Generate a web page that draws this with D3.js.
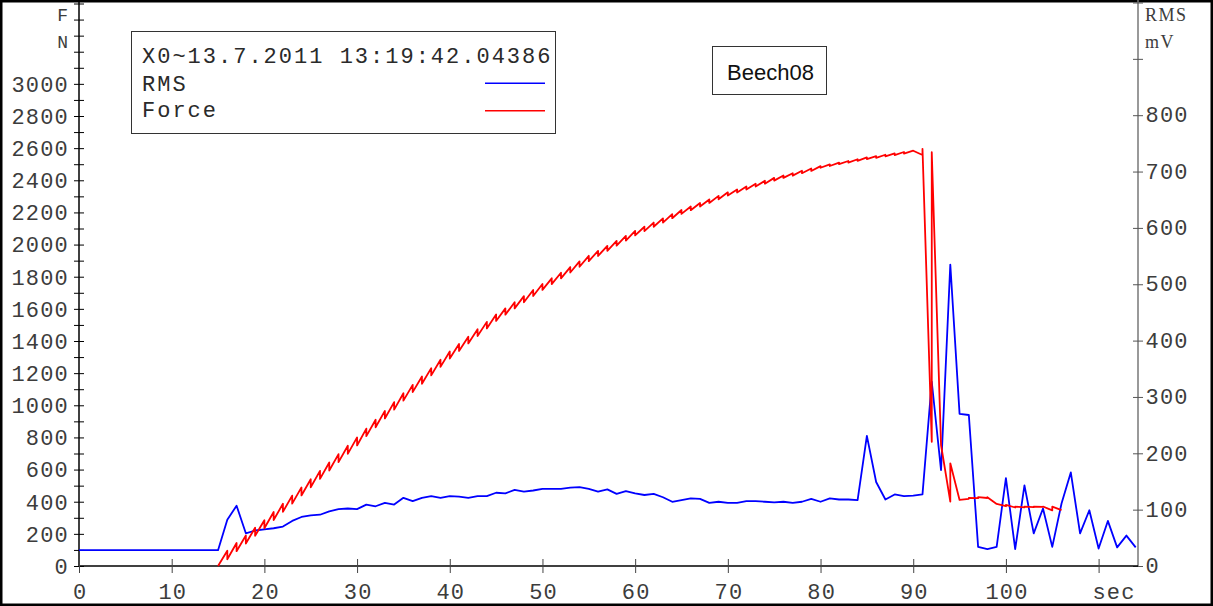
<!DOCTYPE html>
<html>
<head>
<meta charset="utf-8">
<script src="https://cdn.jsdelivr.net/npm/d3@7"></script>
<style>
  body { margin: 0; background: #fff; }
  svg { display: block; }
</style>
</head>
<body>
<svg id="chart" width="1213" height="606"></svg>
<script>
// RMS in mV, one sample per second starting at 0 s
const rms = [
  28, 28, 28, 28, 28, 28, 28, 28, 28, 28, 28, 28, 28, 28, 28, 28,
  82, 107, 58, 63, 65, 67, 70, 80, 87, 90, 91, 97, 101, 102, 101, 109, 106, 112, 109,
  121, 115, 121, 124, 121, 124, 123, 121, 124, 124, 130, 129, 135, 132, 134, 137, 137,
  137, 139, 140, 137, 132, 136, 128, 133, 129, 126, 128, 122, 114, 117, 120, 119, 112,
  114, 112, 112, 115, 115, 114, 113, 114, 112, 114, 119, 114, 120, 118, 118, 117,
  231, 149, 118, 127, 124, 125, 127, 327, 170, 535, 270, 268, 34, 30, 34, 156, 30,
  143, 58, 102, 34, 111, 166, 58, 99, 31, 80, 33, 54, 33
];

// Force in N, starting at 15 s; each second has the value reached and the value it continues from
const forceStart = 15;
const forceIn = [
  0, 95, 143, 190, 238, 285, 336, 387, 438, 489, 540, 592, 644, 696, 748, 800,
  855, 910, 965, 1020, 1075, 1127, 1179, 1231, 1283, 1335, 1381, 1427, 1473, 1519, 1565,
  1603, 1641, 1679, 1717, 1755, 1790, 1825, 1860, 1895, 1930, 1961, 1992, 2023, 2054, 2085,
  2111, 2137, 2163, 2189, 2215, 2237, 2259, 2281, 2303, 2325, 2343, 2361, 2379, 2397, 2415,
  2430, 2444, 2459, 2473, 2488, 2499, 2510, 2520, 2531, 2542, 2550, 2559, 2567, 2576, 2584,
  2557, 773, 753, 400, 411, 418, 422, 423, 386, 372, 364, 365, 366, 368, 346, 348
];
const forceOut = [
  0, 42, 92, 140, 188, 235, 286, 337, 388, 439, 490, 542, 594, 646, 698, 750,
  808, 863, 918, 973, 1029, 1082, 1134, 1186, 1239, 1291, 1338, 1385, 1431, 1478, 1525,
  1564, 1603, 1641, 1680, 1718, 1754, 1790, 1826, 1862, 1897, 1929, 1961, 1993, 2025, 2057,
  2084, 2111, 2137, 2164, 2191, 2214, 2237, 2259, 2282, 2305, 2324, 2342, 2361, 2379, 2398,
  2415, 2429, 2444, 2458, 2478, 2489, 2500, 2510, 2521, 2532, 2540, 2549, 2557, 2566, 2584,
  2596, 2575, 753, 639, 411, 424, 428, 428, 386, 380, 370, 370, 370, 370, 369, 348
];

const forceTicks = d3.range(0, 3501, 100);
const forceLabels = [0, 200, 400, 600, 800, 1000, 1200, 1400, 1600, 1800, 2000, 2200, 2400, 2600, 2800, 3000];
const rmsTicks = [0, 100, 200, 300, 400, 500, 600, 700, 800, 900, 1000];
const rmsLabels = [0, 100, 200, 300, 400, 500, 600, 700, 800];
const timeTicks = [0, 10, 20, 30, 40, 50, 60, 70, 80, 90, 100, 110];
const timeLabels = [0, 10, 20, 30, 40, 50, 60, 70, 80, 90, 100];

const legendTitle = "X0~13.7.2011 13:19:42.043862";
const chartTitle = "Beech08";

const mono = "'Liberation Mono', 'Courier New', monospace";
const textColor = "#3c3c3c";
const svg = d3.select("#chart");

const x = d3.scaleLinear().domain([0, 114.25]).range([79, 1138]);
const yF = d3.scaleLinear().domain([0, 3500]).range([566, 3.5]);
const yR = d3.scaleLinear().domain([0, 1000]).range([566, 2.5]);

// outer frame
svg.append("rect")
  .attr("x", 1.25).attr("y", 1.25).attr("width", 1210.5).attr("height", 603.5)
  .attr("fill", "none").attr("stroke", "#000").attr("stroke-width", 2.5);

// left axis (force)
const gL = svg.append("g").attr("transform", "translate(79,0)")
  .call(d3.axisLeft(yF).tickValues(forceTicks).tickSizeInner(5).tickSizeOuter(0)
    .tickFormat(d => forceLabels.includes(d) ? d : ""));
gL.select(".domain").attr("stroke", "#000").attr("stroke-width", 1.5).attr("d", "M0,0V566");
gL.selectAll(".tick line").attr("x1", 5).attr("x2", -5).attr("stroke", "#000");
gL.selectAll(".tick text")
  .attr("x", -10).attr("dy", null).attr("y", 7.3)
  .style("font-family", mono).style("font-size", "22px").style("letter-spacing", "1.2px")
  .attr("fill", textColor);

// right axis (rms)
const gR = svg.append("g").attr("transform", "translate(1138,0)")
  .call(d3.axisRight(yR).tickValues(rmsTicks).tickSizeInner(5).tickSizeOuter(0)
    .tickFormat(d => rmsLabels.includes(d) ? d : ""));
gR.select(".domain").attr("stroke", "#777").attr("stroke-width", 1.5).attr("d", "M0,0V566");
gR.selectAll(".tick line").attr("x1", -5).attr("x2", 5).attr("stroke", "#555");
gR.selectAll(".tick text")
  .attr("x", 7.5).attr("dy", null).attr("y", 6.7)
  .style("font-family", mono).style("font-size", "22px").style("letter-spacing", "1.2px")
  .attr("fill", textColor);

// bottom axis (time)
const gB = svg.append("g").attr("transform", "translate(0,566)")
  .call(d3.axisBottom(x).tickValues(timeTicks).tickSizeInner(7).tickSizeOuter(0)
    .tickFormat(d => timeLabels.includes(d) ? d : ""));
gB.select(".domain").attr("stroke", "#000").attr("stroke-width", 1.5).attr("d", "M79,0H1138");
gB.selectAll(".tick line").attr("y1", -7).attr("y2", 7).attr("stroke", "#444");
gB.selectAll(".tick text")
  .attr("y", 33).attr("dy", null).attr("x", 0.6)
  .style("font-family", mono).style("font-size", "22px").style("letter-spacing", "1.2px")
  .attr("fill", textColor);

svg.append("text").attr("x", 1114).attr("y", 599).attr("text-anchor", "middle")
  .style("font-family", mono).style("font-size", "22px").style("letter-spacing", "1.2px")
  .attr("fill", textColor).text("sec");

// unit labels
const unit = (txt, xx, yy, anchor, fam) => svg.append("text")
  .attr("x", xx).attr("y", yy).attr("text-anchor", anchor)
  .style("font-family", fam).style("font-size", "18px")
  .attr("fill", textColor).text(txt);
unit("F", 68, 21, "end", mono);
unit("N", 68, 48, "end", mono);
unit("RMS", 1145, 21, "start", "'Liberation Serif', serif").style("letter-spacing", "1.5px");
unit("mV", 1145, 48, "start", "'Liberation Serif', serif").style("letter-spacing", "1.5px");

// series
const rmsLine = d3.line().x((d, i) => x(i)).y(d => yR(d));
svg.append("path").datum(rms)
  .attr("d", rmsLine).attr("fill", "none").attr("stroke", "#0000ff").attr("stroke-width", 1.8)
  .attr("stroke-linejoin", "round");

const forcePts = [];
forceIn.forEach((v, i) => {
  forcePts.push([forceStart + i, v]);
  forcePts.push([forceStart + i, forceOut[i]]);
});
const forceLine = d3.line().x(d => x(d[0])).y(d => yF(d[1]));
svg.append("path").datum(forcePts)
  .attr("d", forceLine).attr("fill", "none").attr("stroke", "#ff0000").attr("stroke-width", 1.8)
  .attr("stroke-linejoin", "round");

// legend
svg.append("clipPath").attr("id", "legclip")
  .append("rect").attr("x", 131).attr("y", 31).attr("width", 422).attr("height", 103);
svg.append("rect").attr("x", 131.5).attr("y", 31.5).attr("width", 424).attr("height", 102)
  .attr("fill", "#fff").attr("stroke", "#333").attr("stroke-width", 1);
const leg = svg.append("g").attr("clip-path", "url(#legclip)")
  .style("font-family", mono).style("font-size", "22px").style("letter-spacing", "2.0px")
  .attr("fill", "#2a2a2a");
leg.append("text").attr("x", 142).attr("y", 62.7).text(legendTitle);
leg.append("text").attr("x", 142).attr("y", 90.7).text("RMS");
leg.append("text").attr("x", 142).attr("y", 117.3).text("Force");
svg.append("line").attr("x1", 485).attr("x2", 545).attr("y1", 83.3).attr("y2", 83.3)
  .attr("stroke", "#0000ff").attr("stroke-width", 1.5);
svg.append("line").attr("x1", 485).attr("x2", 545).attr("y1", 110.7).attr("y2", 110.7)
  .attr("stroke", "#ff0000").attr("stroke-width", 1.5);

// title box
svg.append("rect").attr("x", 712.5).attr("y", 46.5).attr("width", 114).attr("height", 48)
  .attr("fill", "#fff").attr("stroke", "#333").attr("stroke-width", 1);
svg.append("text").attr("x", 770.5).attr("y", 79.5).attr("text-anchor", "middle")
  .style("font-family", "'Liberation Sans', Arial, sans-serif").style("font-size", "22px")
  .attr("fill", "#111").text(chartTitle);
</script>
</body>
</html>
